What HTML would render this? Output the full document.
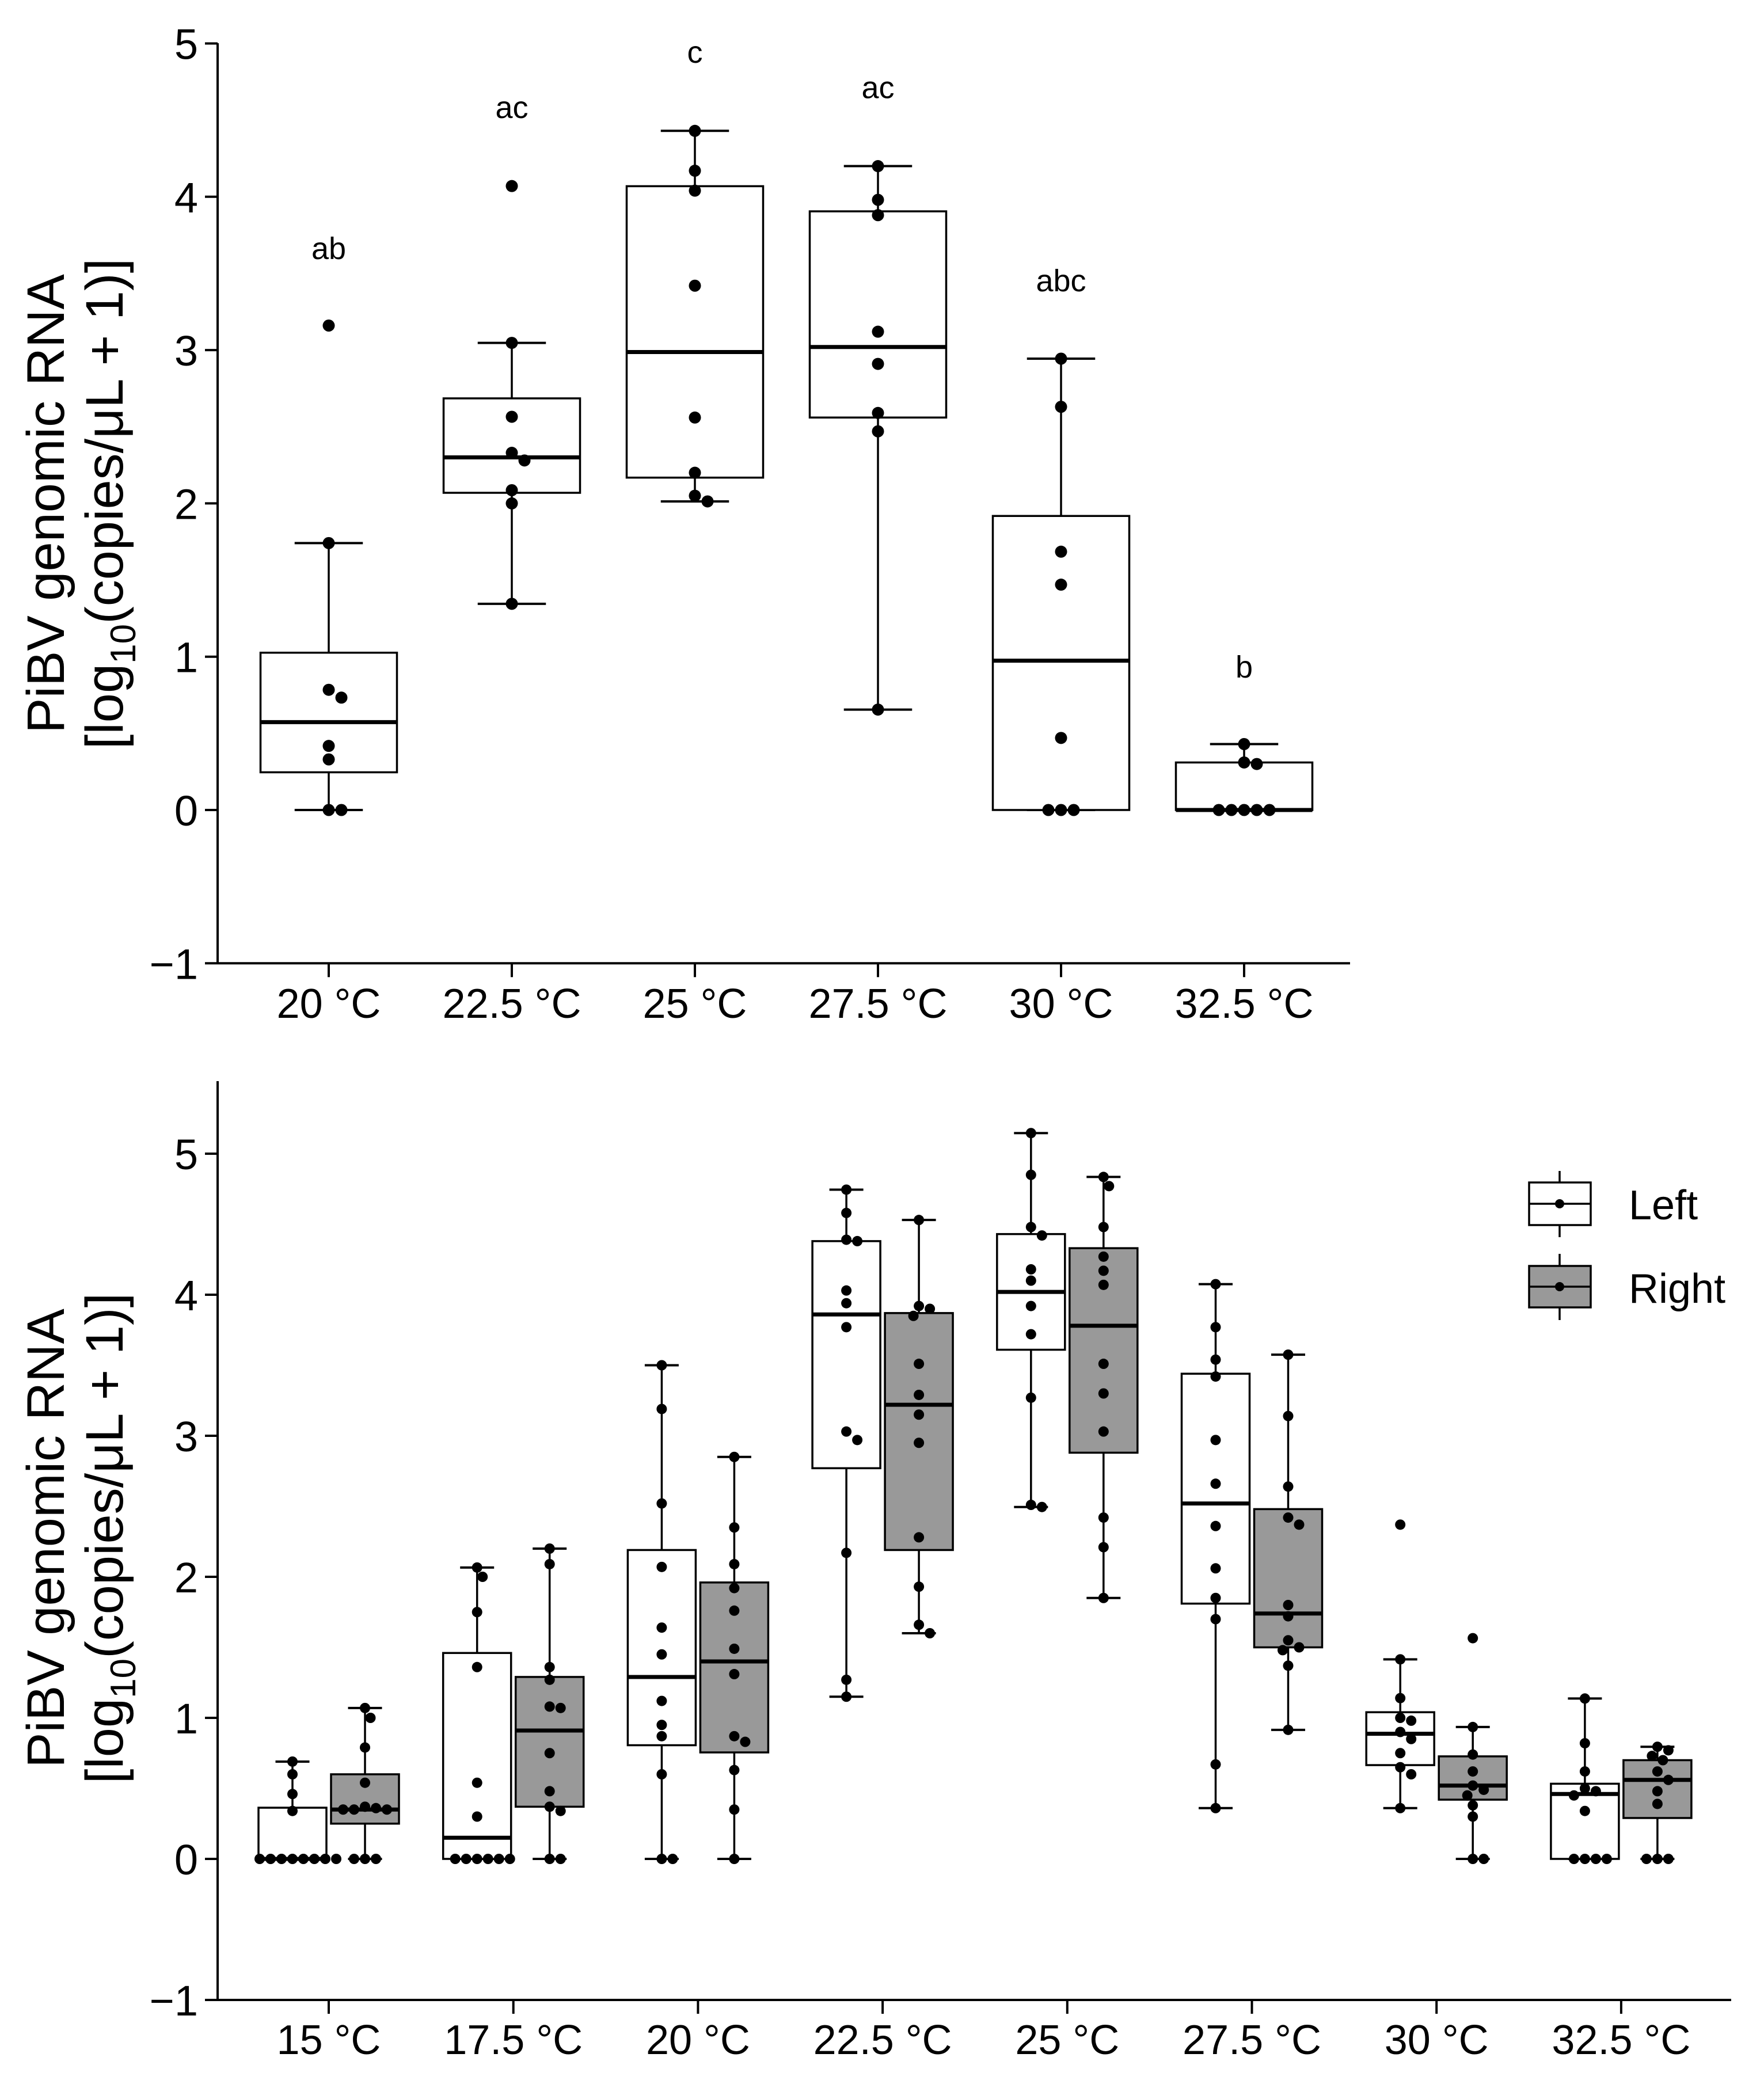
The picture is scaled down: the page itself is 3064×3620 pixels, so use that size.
<!DOCTYPE html>
<html><head><meta charset="utf-8"><style>
html,body{margin:0;padding:0;background:#fff}
svg{display:block}
text{font-family:"Liberation Sans",Arial,sans-serif;fill:#000}
</style></head><body>
<svg id="chart" width="3064" height="3620" viewBox="0 0 3064 3620" xmlns="http://www.w3.org/2000/svg">
<g id="top"></g>
<g id="bot"></g>
</svg>
<script>
// ---- top panel data ----
const topCats = ["20 °C","22.5 °C","25 °C","27.5 °C","30 °C","32.5 °C"];
const topQ1 = [0.246,2.069,2.168,2.56,0,0];
const topMed = [0.573,2.30,2.987,3.02,0.974,0];
const topQ3 = [1.026,2.685,4.069,3.905,1.918,0.31];
const topWlo = [0,1.345,2.013,0.655,0,0];
const topWhi = [1.741,3.047,4.43,4.20,2.944,0.43];
const topPts = [
 [3.16,1.741,0.784,0.733,0.418,0.33,0,0],
 [4.07,3.047,2.565,2.33,2.28,2.086,2.0,1.345],
 [4.43,4.17,4.04,3.42,2.56,2.2,2.05,2.013],
 [4.2,3.98,3.88,3.12,2.91,2.59,2.47,0.655],
 [2.944,2.63,1.685,1.47,0.47,0,0,0],
 [0.43,0.31,0.30,0,0,0,0,0]
];
const topLetters = ["ab","ac","c","ac","abc","b"];
const topLetterY = [3.65,4.57,4.93,4.70,3.44,0.92];
const topTicks = [-1,0,1,2,3,4,5];

// ---- bottom panel data ----
const botCats = ["15 °C","17.5 °C","20 °C","22.5 °C","25 °C","27.5 °C","30 °C","32.5 °C"];
const leftQ1 = [0,0,0.806,2.77,3.61,1.81,0.665,0];
const leftMed = [0,0.15,1.29,3.86,4.02,2.52,0.887,0.46];
const leftQ3 = [0.363,1.46,2.19,4.38,4.43,3.44,1.04,0.533];
const leftWlo = [0,0,0,1.15,2.495,0.36,0.36,0];
const leftWhi = [0.69,2.066,3.5,4.745,5.146,4.075,1.415,1.137];
const rightQ1 = [0.25,0.37,0.755,2.19,2.88,1.50,0.42,0.29];
const rightMed = [0.35,0.91,1.40,3.22,3.78,1.74,0.52,0.56];
const rightQ3 = [0.6,1.29,1.96,3.87,4.33,2.48,0.727,0.70];
const rightWlo = [0,0,0,1.60,1.85,0.915,0,0];
const rightWhi = [1.07,2.2,2.85,4.53,4.835,3.575,0.935,0.795];
const leftPts = [
 [0.69,0.6,0.46,0.34,0,0,0,0,0,0,0,0],
 [2.066,2.0,1.75,1.36,0.54,0.30,0,0,0,0,0,0],
 [3.5,3.19,2.52,2.07,1.64,1.45,1.12,0.95,0.87,0.6,0,0],
 [4.745,4.58,4.39,4.38,4.03,3.94,3.77,3.03,2.97,2.17,1.27,1.15],
 [5.146,4.85,4.48,4.42,4.18,4.10,3.92,3.72,3.27,2.51,2.495],
 [4.075,3.77,3.54,3.42,2.97,2.66,2.36,2.06,1.85,1.70,0.67,0.36],
 [2.37,1.415,1.14,1.0,0.98,0.90,0.85,0.75,0.65,0.60,0.36],
 [1.137,0.82,0.62,0.50,0.48,0.45,0.34,0,0,0,0]
];
const rightPts = [
 [1.07,1.0,0.79,0.54,0.37,0.35,0.35,0.35,0.36,0,0,0],
 [2.2,2.09,1.36,1.27,1.08,1.07,0.75,0.48,0.37,0.34,0,0],
 [2.85,2.35,2.09,1.92,1.76,1.49,1.31,0.87,0.83,0.63,0.35,0],
 [4.53,3.92,3.90,3.85,3.51,3.29,3.15,2.95,2.28,1.93,1.66,1.60],
 [4.835,4.77,4.48,4.27,4.17,4.07,3.51,3.30,3.03,2.42,2.21,1.85],
 [3.575,3.14,2.64,2.42,2.37,1.80,1.72,1.55,1.50,1.48,1.37,0.915],
 [1.565,0.935,0.74,0.62,0.52,0.49,0.45,0.38,0.30,0,0],
 [0.795,0.77,0.73,0.70,0.62,0.56,0.48,0.39,0,0,0]
];
const botTicks = [-1,0,1,2,3,4,5];

const NS="http://www.w3.org/2000/svg";
function mk(parent,tag,attrs,txt){const e=document.createElementNS(NS,tag);for(const k in attrs)e.setAttribute(k,attrs[k]);if(txt!==undefined)e.textContent=txt;parent.appendChild(e);return e;}

function swarm(g,vals,cx,yf,r){
  const ys=vals.map(yf).slice().sort((a,b)=>a-b);
  const placed=[];
  ys.forEach(y=>{
    let best=null;
    for(let k=0;k<30&&best===null;k++){
      const cands=k===0?[0]:[k*(r+0.5),-k*(r+0.5)];
      for(const dx of cands){
        if(placed.every(p=>Math.hypot(p[0]-dx,p[1]-y)>=2*r)){best=dx;break;}
      }
    }
    placed.push([best,y]);
  });
  placed.forEach(p=>{
    const c=mk(g,'circle',{cx:cx+p[0],cy:p[1],r:r,fill:'#000'});
    
    
  });
}

function box(g,cx,w,q1,med,q3,wlo,whi,yf,fill,r,pts,name){
  const bg=mk(g,'g',{});
  
  
  const cw=w/2;
  mk(bg,'line',{x1:cx,x2:cx,y1:yf(whi),y2:yf(q3),stroke:'#000','stroke-width':3.5});
  mk(bg,'line',{x1:cx,x2:cx,y1:yf(q1),y2:yf(wlo),stroke:'#000','stroke-width':3.5});
  mk(bg,'line',{x1:cx-cw/2,x2:cx+cw/2,y1:yf(whi),y2:yf(whi),stroke:'#000','stroke-width':4});
  mk(bg,'line',{x1:cx-cw/2,x2:cx+cw/2,y1:yf(wlo),y2:yf(wlo),stroke:'#000','stroke-width':4});
  mk(bg,'rect',{x:cx-w/2,y:yf(q3),width:w,height:Math.max(1,yf(q1)-yf(q3)),fill:fill,stroke:'#000','stroke-width':3.5});
  mk(bg,'line',{x1:cx-w/2,x2:cx+w/2,y1:yf(med),y2:yf(med),stroke:'#000','stroke-width':7});
  swarm(bg,pts,cx,yf,r);
}

function axes(g,ax,ay0,unit,ymin,ymax,xEnd,cats,catX,ticks,labY,axTop){
  const yf=v=>ay0-v*unit;
  const ya=mk(g,'line',{x1:ax,x2:ax,y1:axTop,y2:yf(ymin),stroke:'#000','stroke-width':4});
  
  const xa=mk(g,'line',{x1:ax,x2:xEnd,y1:yf(ymin),y2:yf(ymin),stroke:'#000','stroke-width':4});
  
  ticks.forEach(t=>{
    mk(g,'line',{x1:ax-22,x2:ax,y1:yf(t),y2:yf(t),stroke:'#000','stroke-width':4});
    const tl=mk(g,'text',{x:ax-34,y:yf(t)+27,'text-anchor':'end','font-size':74},t<0?'\u2212'+Math.abs(t):String(t));
    
  });
  cats.forEach((c,i)=>{
    const x=catX(i);
    mk(g,'line',{x1:x,x2:x,y1:yf(ymin),y2:yf(ymin)+24,stroke:'#000','stroke-width':4});
    const tl=mk(g,'text',{x:x,y:labY,'text-anchor':'middle','font-size':72},c);
    
  });
  return yf;
}

function ytitle(g,cx,cy){
  const t=mk(g,'text',{transform:`translate(${cx},${cy}) rotate(-90)`,'text-anchor':'middle','font-size':92});
  
  mk(t,'tspan',{x:0,y:-54},'PiBV genomic RNA');
  mk(t,'tspan',{x:0,y:48},'[log');
  mk(t,'tspan',{'font-size':62,dy:22},'10');
  mk(t,'tspan',{dy:-22},'(copies/\u03bcL + 1)]');
}

// top panel
const gt=document.getElementById('top');
const tCatX=i=>571+i*318;
const yT=axes(gt,378,1407,266.3,-1,5,2345,topCats,tCatX,topTicks,1768,75);
ytitle(gt,165,875);
topCats.forEach((c,i)=>{
  box(gt,tCatX(i),237,topQ1[i],topMed[i],topQ3[i],topWlo[i],topWhi[i],yT,'#fff',10.5,topPts[i],'box-'+i);
  const l=mk(gt,'text',{x:tCatX(i),y:yT(topLetterY[i])+15,'text-anchor':'middle','font-size':54},topLetters[i]);
  
});

// bottom panel
const gb=document.getElementById('bot');
const bCatX=i=>571+i*320.7;
const yB=axes(gb,378,3229,245,-1,5,3007,botCats,bCatX,botTicks,3568,1878);
ytitle(gb,165,2672);
botCats.forEach((c,i)=>{
  box(gb,bCatX(i)-63,118,leftQ1[i],leftMed[i],leftQ3[i],leftWlo[i],leftWhi[i],yB,'#fff',9,leftPts[i],'left-box-'+i);
  box(gb,bCatX(i)+63,118,rightQ1[i],rightMed[i],rightQ3[i],rightWlo[i],rightWhi[i],yB,'#999',9,rightPts[i],'right-box-'+i);
});

// legend
const lg=mk(gb,'g',{});


[['Left','#fff',2054,2128,2034,2149,2118],['Right','#999',2199,2271,2178,2293,2263]].forEach(e=>{
  const eg=mk(lg,'g',{});
  
  
  mk(eg,'line',{x1:2709,x2:2709,y1:e[4],y2:e[5],stroke:'#000','stroke-width':3.5});
  mk(eg,'rect',{x:2656,y:e[2],width:107,height:e[3]-e[2],fill:e[1],stroke:'#000','stroke-width':3.5});
  mk(eg,'line',{x1:2656,x2:2763,y1:(e[2]+e[3])/2,y2:(e[2]+e[3])/2,stroke:'#000','stroke-width':3.5});
  mk(eg,'circle',{cx:2709,cy:(e[2]+e[3])/2,r:8,fill:'#000'});
  mk(eg,'text',{x:2829,y:e[6],'font-size':72},e[0]);
});
</script>
</body></html>
